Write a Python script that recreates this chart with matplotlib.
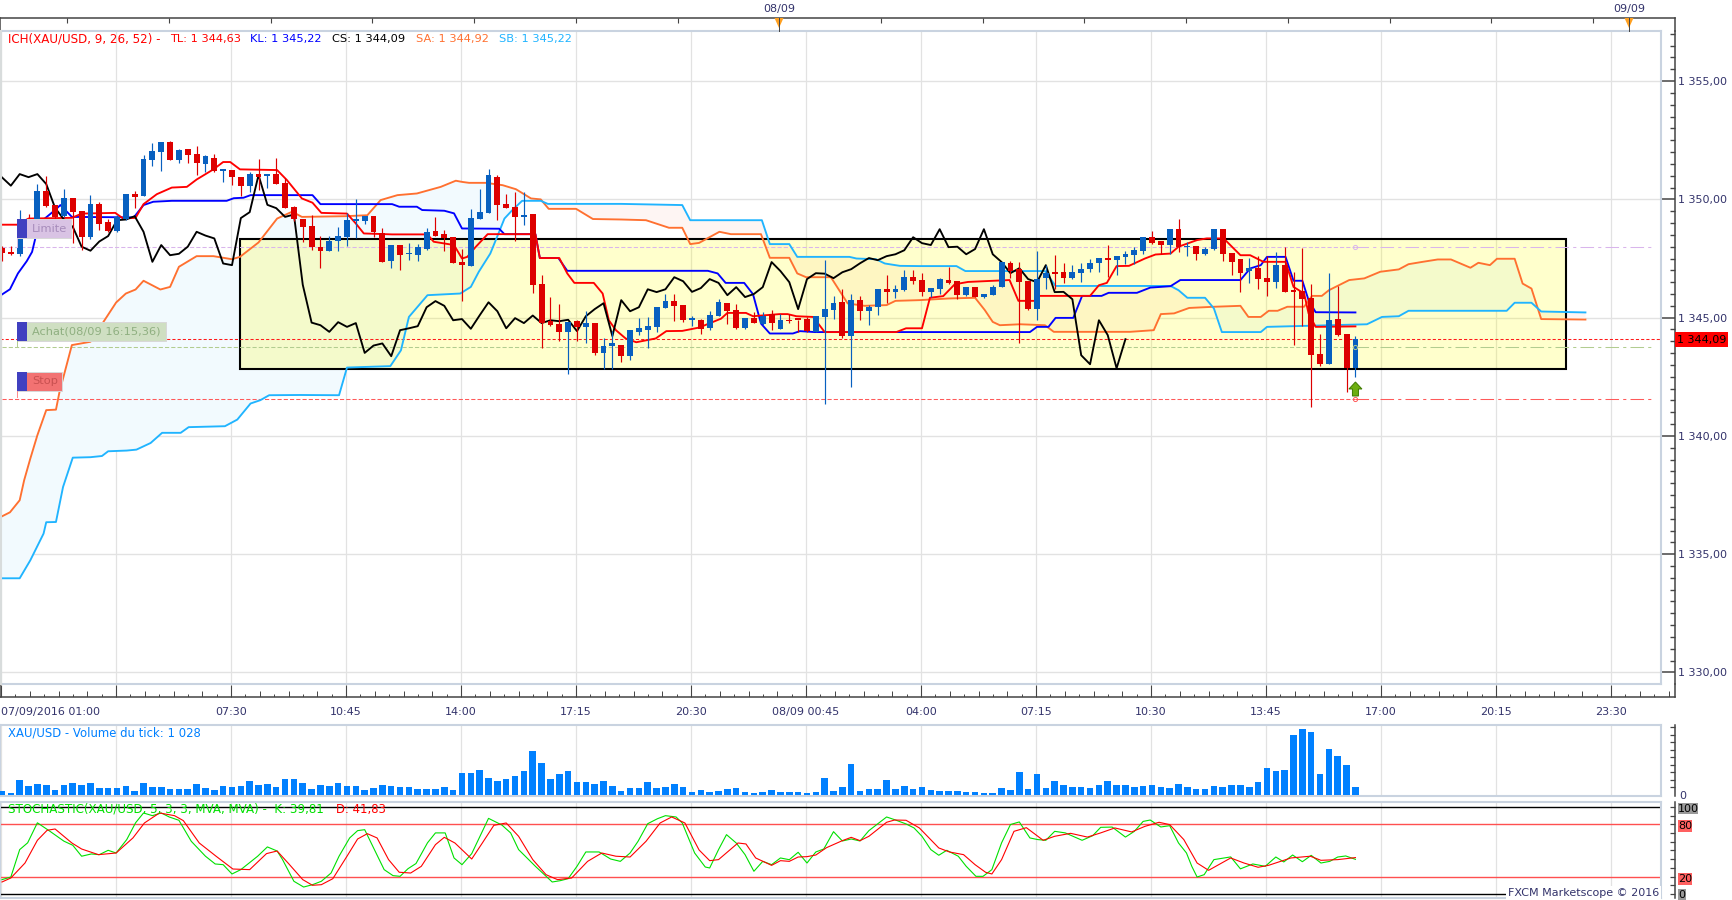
import numpy as np
import matplotlib
matplotlib.use('Agg')
import matplotlib.pyplot as plt
from matplotlib.patches import Rectangle, Polygon
from matplotlib.ticker import MultipleLocator, FuncFormatter, NullFormatter

# --- 15 min candles, 07/09 01:00 -> 08/09 16:15 ---
opens = [1347.94, 1347.77, 1347.68, 1349.19, 1349.12, 1350.35, 1349.76, 1349.29, 1350.08, 1349.49, 1348.42, 1349.80, 1349.04, 1348.67, 1349.18, 1350.22, 1350.15, 1351.66, 1352.01, 1352.42, 1351.66, 1352.13, 1351.91, 1351.51, 1351.77, 1351.21,
         1351.24, 1350.93, 1350.58, 1351.07, 1350.97, 1351.07, 1350.70, 1349.66, 1349.17, 1348.87, 1348.00, 1347.83, 1348.25, 1348.42, 1349.10, 1349.10, 1349.29, 1348.59, 1347.40, 1348.07, 1347.68, 1347.64, 1347.91, 1348.66, 1348.53, 1348.39,
         1347.36, 1347.19, 1349.17, 1349.43, 1350.94, 1349.80, 1349.66, 1349.26, 1349.38, 1346.41, 1344.86, 1344.72, 1344.40, 1344.85, 1344.61, 1344.77, 1343.51, 1343.79, 1343.86, 1343.37, 1344.39, 1344.47, 1344.60, 1345.40, 1345.70, 1345.53,
         1344.92, 1344.92, 1344.55, 1345.06, 1345.61, 1345.32, 1344.55, 1344.98, 1344.72, 1345.15, 1344.51, 1344.92, 1344.92, 1344.94, 1344.40, 1345.02, 1345.32, 1345.65, 1344.22, 1345.74, 1345.27, 1345.44, 1346.20, 1346.08, 1346.16, 1346.71,
         1346.59, 1346.08, 1346.20, 1346.59, 1346.54, 1345.95, 1346.29, 1345.87, 1345.95, 1346.29, 1347.30, 1347.05, 1346.54, 1345.36, 1346.67, 1346.88, 1346.92, 1346.67, 1346.88, 1347.05, 1347.30, 1347.52, 1347.43, 1347.55, 1347.64, 1347.81,
         1348.40, 1348.23, 1348.07, 1348.74, 1347.98, 1348.01, 1347.68, 1347.90, 1348.74, 1347.73, 1347.47, 1346.97, 1347.09, 1346.67, 1346.50, 1347.22, 1346.13, 1346.11, 1345.82, 1343.45, 1343.03, 1344.94, 1344.30, 1342.86]
highs = [1348.02, 1348.05, 1349.55, 1349.38, 1350.67, 1350.98, 1349.76, 1350.46, 1350.08, 1349.49, 1350.18, 1349.88, 1349.15, 1349.33, 1350.22, 1350.35, 1351.87, 1352.37, 1352.42, 1352.45, 1352.15, 1352.13, 1352.25, 1351.89, 1351.91, 1351.24,
         1351.24, 1350.93, 1351.14, 1351.69, 1351.07, 1351.75, 1350.91, 1349.71, 1349.17, 1349.33, 1348.47, 1348.45, 1348.83, 1349.43, 1350.01, 1349.29, 1349.29, 1348.81, 1348.07, 1348.07, 1348.14, 1348.11, 1348.77, 1349.24, 1348.70, 1348.39,
         1347.92, 1349.59, 1350.46, 1351.28, 1351.03, 1350.22, 1350.31, 1350.31, 1349.38, 1346.80, 1345.88, 1345.57, 1344.81, 1344.92, 1345.27, 1344.77, 1344.12, 1344.44, 1343.86, 1344.47, 1344.98, 1345.03, 1345.44, 1346.00, 1346.00, 1345.53,
         1345.06, 1344.96, 1345.29, 1345.80, 1345.61, 1345.57, 1344.98, 1345.23, 1345.23, 1345.32, 1345.15, 1345.15, 1344.92, 1345.03, 1345.06, 1347.43, 1345.91, 1346.20, 1346.00, 1345.91, 1345.53, 1346.20, 1346.80, 1346.37, 1347.01, 1347.01,
         1346.87, 1346.25, 1346.68, 1347.13, 1346.54, 1346.29, 1346.29, 1346.00, 1346.37, 1347.35, 1347.39, 1347.35, 1346.54, 1347.81, 1347.22, 1347.64, 1347.30, 1347.22, 1347.30, 1347.47, 1347.52, 1348.07, 1347.60, 1347.81, 1347.98, 1348.40,
         1348.66, 1348.23, 1348.74, 1349.17, 1348.19, 1348.01, 1347.98, 1348.74, 1348.74, 1347.73, 1347.47, 1347.52, 1347.60, 1347.60, 1347.77, 1347.98, 1346.92, 1347.94, 1346.41, 1344.30, 1346.88, 1346.33, 1344.30, 1344.22]
lows = [1347.40, 1347.66, 1347.60, 1348.77, 1349.12, 1349.66, 1349.12, 1349.24, 1348.14, 1347.85, 1348.33, 1348.70, 1348.63, 1348.62, 1349.12, 1349.62, 1350.15, 1351.42, 1351.21, 1351.68, 1351.52, 1351.55, 1351.03, 1351.17, 1351.17, 1350.74,
        1350.60, 1350.15, 1350.32, 1350.39, 1350.50, 1350.65, 1349.62, 1349.10, 1348.21, 1347.85, 1347.11, 1347.83, 1347.83, 1348.04, 1348.35, 1348.98, 1348.42, 1347.36, 1347.08, 1347.01, 1347.43, 1347.40, 1347.85, 1348.45, 1347.83, 1347.29,
        1345.71, 1347.19, 1349.17, 1349.43, 1349.12, 1349.62, 1348.25, 1348.91, 1346.05, 1343.70, 1344.65, 1344.02, 1342.61, 1344.02, 1343.93, 1343.41, 1342.83, 1342.83, 1343.12, 1343.20, 1344.26, 1343.71, 1344.41, 1345.40, 1344.86, 1344.81,
        1344.64, 1344.30, 1344.47, 1345.06, 1344.72, 1344.51, 1344.51, 1344.77, 1344.68, 1344.47, 1344.51, 1344.77, 1344.39, 1344.39, 1344.39, 1341.34, 1344.94, 1344.13, 1342.06, 1344.89, 1344.68, 1345.10, 1345.61, 1345.82, 1346.12, 1346.44,
        1345.92, 1345.88, 1346.00, 1346.41, 1345.78, 1345.91, 1345.87, 1345.85, 1345.95, 1346.29, 1346.67, 1343.92, 1345.32, 1344.89, 1346.20, 1346.20, 1346.46, 1346.63, 1346.50, 1346.92, 1346.92, 1346.71, 1346.80, 1347.26, 1347.26, 1347.68,
        1348.11, 1347.68, 1347.68, 1347.77, 1347.60, 1347.43, 1347.64, 1347.85, 1347.39, 1346.80, 1346.08, 1346.46, 1346.20, 1345.91, 1346.25, 1346.08, 1343.84, 1344.64, 1341.21, 1342.95, 1343.03, 1344.22, 1341.85, 1342.48]
closes = [1347.74, 1347.68, 1349.19, 1348.98, 1350.35, 1349.71, 1349.24, 1350.08, 1349.46, 1348.39, 1349.80, 1348.95, 1348.67, 1349.24, 1350.22, 1350.10, 1351.70, 1352.03, 1352.42, 1351.68, 1352.08, 1351.89, 1351.52, 1351.83, 1351.21, 1351.24,
          1350.93, 1350.58, 1351.07, 1350.94, 1351.07, 1350.65, 1349.64, 1349.15, 1348.84, 1348.00, 1347.83, 1348.22, 1348.45, 1349.12, 1349.15, 1349.29, 1348.63, 1347.36, 1348.07, 1347.64, 1347.70, 1348.00, 1348.63, 1348.47, 1348.35, 1347.29,
          1347.22, 1349.21, 1349.46, 1351.03, 1349.77, 1349.63, 1349.26, 1349.36, 1346.39, 1344.79, 1344.68, 1344.40, 1344.81, 1344.61, 1344.77, 1343.51, 1343.82, 1343.91, 1343.37, 1344.47, 1344.55, 1344.64, 1345.44, 1345.70, 1345.50, 1344.89,
          1344.94, 1344.53, 1345.10, 1345.65, 1345.27, 1344.55, 1344.98, 1344.77, 1345.09, 1344.77, 1344.89, 1344.85, 1344.91, 1344.43, 1345.06, 1345.36, 1345.61, 1344.22, 1345.74, 1345.27, 1345.44, 1346.20, 1346.08, 1346.20, 1346.71, 1346.54,
          1346.09, 1346.25, 1346.63, 1346.47, 1345.95, 1346.29, 1345.87, 1346.00, 1346.29, 1347.35, 1346.97, 1346.50, 1345.36, 1346.63, 1346.88, 1346.86, 1346.67, 1346.92, 1347.05, 1347.30, 1347.52, 1347.43, 1347.60, 1347.68, 1347.85, 1348.40,
          1348.15, 1348.07, 1348.74, 1347.98, 1348.00, 1347.68, 1347.90, 1348.74, 1347.68, 1347.35, 1346.88, 1347.09, 1346.63, 1346.50, 1347.22, 1346.08, 1346.09, 1345.78, 1343.41, 1343.03, 1344.89, 1344.26, 1342.86, 1344.09]

# --- Ichimoku lines as (bar, price) break points ---
tenkan_bars = [0, 1.7, 3, 7.9, 9, 12.8, 13.7, 15.1, 16, 17.5, 19.2, 20.9, 22, 23.9, 25, 25.8, 26.9, 31.1, 32.2, 33.9, 35.1, 36.1, 39, 40, 40.9, 44.1, 48.1, 48.8, 51.1, 52, 52.6, 53.5, 54.9, 60.3, 60.8, 63, 63.9, 64.7, 66.9, 67.9, 68.6, 69.4, 70.5, 71.7, 73.9, 75.1, 76.9, 78.8, 81.3, 82, 84.1, 84.9, 87.9, 88.8, 89.8, 91.7, 93, 101.1, 102.2, 104, 104.9, 106.4, 107.7, 109.2, 113.9, 114.9, 116.8, 117.2, 123, 124, 124.9, 126, 127.4, 129.2, 130.4, 132.1, 133, 135.1, 136.2, 138.1, 140, 141.1, 142.6, 145.1, 146, 147.2, 147.7, 148.5, 153]
tenkan_vals = [1348.93, 1348.93, 1349.19, 1349.22, 1349.40, 1349.43, 1349.19, 1349.22, 1349.80, 1350.22, 1350.50, 1350.53, 1350.84, 1351.27, 1351.58, 1351.58, 1351.27, 1351.24, 1350.82, 1350.04, 1349.86, 1349.43, 1349.40, 1348.98, 1348.56, 1348.52, 1348.52, 1348.21, 1348.07, 1347.50, 1347.57, 1347.97, 1348.53, 1348.53, 1347.52, 1347.52, 1346.87, 1346.47, 1346.47, 1346.02, 1344.89, 1344.47, 1344.12, 1343.96, 1344.12, 1344.43, 1344.44, 1344.58, 1344.96, 1345.20, 1345.20, 1345.06, 1345.15, 1345.15, 1345.06, 1345.03, 1344.39, 1344.39, 1344.55, 1344.55, 1345.84, 1345.91, 1346.41, 1346.51, 1346.59, 1345.71, 1345.71, 1345.92, 1345.92, 1346.37, 1346.47, 1347.18, 1347.19, 1347.50, 1347.67, 1347.71, 1348.00, 1348.28, 1348.35, 1348.35, 1347.64, 1347.64, 1347.36, 1347.36, 1346.30, 1346.02, 1345.18, 1344.61, 1344.63]

kijun_bars = [0, 0.9, 1.8, 2.8, 3.4, 3.9, 4.7, 6, 6.6, 7.9, 14.9, 16, 17.1, 19.2, 25.4, 26.2, 27.3, 28.1, 35.1, 36, 44.1, 44.9, 46.9, 47.5, 50, 51.1, 52, 56.2, 56.8, 60.3, 60.8, 62.9, 63.9, 79.8, 80.9, 81.8, 83.9, 84.9, 85.8, 86.8, 89.4, 90.2, 91.9, 116.2, 117, 118.3, 119.1, 121.1, 122.1, 124.3, 125.1, 128.3, 129.8, 132.1, 133.2, 140, 141.1, 142.3, 143, 145.1, 146, 147, 147.7, 148.5, 153]
kijun_vals = [1345.98, 1346.20, 1346.87, 1347.39, 1347.78, 1348.56, 1349.15, 1349.55, 1349.76, 1349.26, 1349.24, 1349.76, 1349.90, 1349.94, 1349.94, 1350.05, 1350.07, 1350.18, 1350.18, 1349.80, 1349.80, 1349.69, 1349.69, 1349.55, 1349.52, 1349.41, 1348.77, 1348.76, 1348.53, 1348.53, 1347.52, 1347.52, 1346.98, 1346.98, 1346.87, 1346.47, 1346.47, 1345.99, 1344.75, 1344.33, 1344.33, 1344.43, 1344.39, 1344.39, 1344.61, 1344.61, 1344.99, 1344.99, 1345.92, 1345.92, 1346.05, 1346.05, 1346.27, 1346.33, 1346.59, 1346.59, 1347.08, 1347.22, 1347.57, 1347.57, 1346.56, 1346.56, 1345.74, 1345.23, 1345.22]

senkou_a_bars = [0, 0.9, 2, 2.5, 3.2, 4, 5, 6.1, 6.5, 7.9, 10, 12.9, 14, 15.1, 16, 17.9, 19, 20, 22, 23.9, 26, 26.9, 29, 31.1, 32.8, 33.9, 38.8, 41.3, 42.8, 44.7, 46.9, 49.6, 51.3, 52, 52.8, 54.7, 56.6, 58.1, 59.8, 60.9, 61.8, 64.9, 66.8, 70, 72.8, 75.4, 76.9, 77.8, 78.8, 81.1, 82.4, 85.8, 86.8, 89, 89.9, 90.9, 93.7, 95.6, 97.5, 100, 101, 103.7, 107, 110, 111.1, 112, 112.8, 115.1, 117.9, 118.9, 127.5, 130.2, 131, 132.5, 134.2, 137, 140, 140.9, 142.3, 143.2, 144.2, 145.3, 147.2, 148.1, 149.2, 150, 152.3, 154, 155.8, 157.9, 159, 160.6, 162.3, 163.8, 166, 166.9, 168.2, 169, 171, 171.9, 172.9, 174, 179]
senkou_a_vals = [1336.60, 1336.77, 1337.28, 1338.12, 1339.04, 1340.03, 1341.09, 1341.11, 1341.86, 1343.84, 1343.98, 1345.64, 1346.02, 1346.19, 1346.56, 1346.19, 1346.30, 1347.15, 1347.60, 1347.60, 1347.47, 1347.57, 1348.18, 1349.19, 1349.48, 1349.26, 1349.29, 1349.33, 1349.97, 1350.18, 1350.25, 1350.53, 1350.79, 1350.74, 1350.70, 1350.70, 1350.60, 1350.43, 1350.04, 1350.00, 1349.60, 1349.60, 1349.17, 1349.15, 1349.12, 1348.80, 1348.80, 1348.11, 1348.16, 1348.63, 1348.53, 1348.53, 1347.53, 1347.53, 1346.87, 1346.71, 1346.71, 1345.60, 1345.50, 1345.53, 1345.71, 1345.74, 1345.81, 1345.84, 1345.32, 1344.82, 1344.68, 1344.72, 1344.68, 1344.40, 1344.40, 1344.47, 1345.15, 1345.18, 1345.41, 1345.46, 1345.50, 1345.03, 1345.03, 1345.29, 1345.29, 1345.46, 1345.46, 1345.92, 1345.92, 1346.16, 1346.59, 1346.66, 1346.94, 1347.04, 1347.26, 1347.36, 1347.46, 1347.46, 1347.11, 1347.32, 1347.22, 1347.49, 1347.49, 1346.44, 1346.23, 1344.94, 1344.92]

senkou_b_bars = [0, 2, 3.2, 4.7, 5, 6.1, 6.9, 8, 10, 11.3, 12, 14.1, 15.2, 16.8, 18.1, 20.2, 21.1, 25.2, 26.6, 28.1, 29.2, 30.2, 33.7, 38.1, 39, 43.9, 45.1, 46, 48.1, 51.8, 53, 53.9, 55.2, 56.2, 56.8, 57.7, 58.8, 60.9, 61.7, 70, 76.9, 77.8, 85.9, 86.8, 89, 89.9, 95.8, 96.6, 98.8, 99.8, 101.5, 103.7, 107.9, 108.9, 117.9, 119.1, 132.1, 133, 134, 136, 137, 137.9, 142.3, 143, 154.3, 156, 157.9, 159, 170.1, 171, 172.9, 174, 179]
senkou_b_vals = [1333.98, 1333.98, 1334.74, 1335.87, 1336.35, 1336.36, 1337.84, 1339.08, 1339.10, 1339.15, 1339.35, 1339.38, 1339.42, 1339.70, 1340.13, 1340.13, 1340.37, 1340.41, 1340.69, 1341.37, 1341.51, 1341.72, 1341.73, 1341.72, 1342.89, 1342.95, 1343.62, 1345.03, 1345.95, 1346.02, 1346.30, 1346.94, 1347.71, 1348.63, 1349.19, 1349.55, 1349.94, 1349.94, 1349.81, 1349.81, 1349.76, 1349.12, 1349.12, 1348.11, 1348.11, 1347.57, 1347.57, 1347.50, 1347.47, 1347.29, 1347.19, 1347.18, 1347.18, 1346.97, 1346.97, 1346.34, 1346.34, 1346.16, 1345.84, 1345.84, 1345.39, 1344.39, 1344.39, 1344.61, 1344.72, 1345.03, 1345.06, 1345.29, 1345.29, 1345.63, 1345.63, 1345.26, 1345.22]

# chikou is the close drawn 26 bars back
CHIKOU_SHIFT = 26

volumes = [530, 270, 1990, 1190, 1410, 1330, 660, 1330, 1590, 1330, 1590, 930, 930, 930, 1190, 530, 1590, 1060, 1060, 800, 800, 800, 1460, 930, 660, 1190, 1060, 1190, 1860, 1330, 1460, 1060, 2120, 2120, 1590, 800, 1330, 1190, 1590, 1190, 1190, 660, 930, 1330, 1190, 1060, 1060, 800, 800, 800, 1060, 660,
           2920, 2920, 3320, 2250, 1860, 2120, 2520, 3180, 5830, 4240, 2120, 2780, 3180, 1720, 1720, 1460, 1860, 1190, 530, 930, 930, 1720, 930, 1060, 1460, 1060, 400, 660, 400, 530, 800, 930, 400, 270, 400, 660, 400, 400, 400, 270, 400, 2250, 530, 1060, 4110, 530, 800, 800, 1990, 800, 1190, 800,
           1060, 660, 530, 530, 530, 400, 400, 270, 270, 930, 660, 3050, 800, 2780, 930, 1860, 1330, 1060, 1060, 930, 1330, 1860, 1330, 1330, 1060, 1190, 1330, 1060, 930, 1460, 1060, 800, 800, 1190, 1060, 1330, 1330, 1060, 1720, 3580, 3180, 3320, 7960, 8710, 8350, 2780, 6100, 5170, 3980, 1028]

# --- Stochastic as (bar, value) break points ---
k_bars = [0, 1, 2, 2.9, 4, 5.4, 7, 8, 9, 10.1, 11, 12, 12.9, 14.1, 15.1, 16, 17, 18, 18.9, 20, 21.4, 23, 24.1, 25, 26, 27, 28.9, 30, 31.1, 31.7, 33, 34.1, 35.1, 36.1, 37.2, 38.1, 39.3, 40.2, 41, 42.1, 43.2, 44.2, 45, 45.9, 46.8, 48.1, 49, 50.1, 51.1, 52, 53.1, 55, 56.5, 57.5, 58.4, 60.3, 62.2, 63.1, 64, 65, 66, 67.5, 68.8, 69.9, 71, 71.9, 73, 74.1, 75, 76.2, 76.9, 78.3, 79.5, 80, 81, 81.9, 83, 84, 85, 86, 87, 88, 89, 90, 91, 92, 92.9, 94, 95, 96, 97, 98,
          100, 100.9, 102.2, 103.1, 104, 105, 105.9, 106.8, 108.1, 109, 110.1, 110.9, 111.9, 113, 114, 115, 116.2, 117.1, 118, 119, 120.2, 122.1, 123.3, 124.2, 125.5, 127, 128, 129, 129.8, 131, 132, 133, 133.9, 134.5, 135.1, 135.9, 137, 138.9, 140, 141.4, 142.8, 144, 144.9, 145.9, 147, 148, 149.1, 150.1, 151, 151.9, 153]
k_vals = [16.5, 19.5, 51, 58.8, 81.8, 72.2, 60.7, 56, 43.4, 46, 45.2, 50.2, 47.1, 62.5, 81.8, 93.1, 90, 93.1, 88.5, 84.7, 60.5, 43.4, 34.5, 33.7, 23, 28, 43.4, 54.1, 49.4, 39.8, 14.6, 8, 10.7, 14.6, 24.1, 43.4, 64.4, 72.8, 73.9, 51, 28, 21.1, 20.3, 29.1, 35, 58.8, 70.2, 70.2, 41.4, 33.7, 46.4, 86.9, 79.3, 70.2, 51, 31.8, 13.8, 15.3, 17.6, 31.8, 48.3, 48.3, 40.2, 37.5, 47.1, 60.5, 80.8, 86.5, 90, 88.5, 81.6, 47.1, 31, 29.9, 51, 68.2, 58.6, 45.2, 26.1, 37.5, 33.7, 41.4, 39.4, 47.9, 35.6, 48.3, 51.7, 71.6, 60.9, 63.2, 60.9, 72.8,
          88.5, 85.4, 80.5, 75.9, 66.3, 51, 44.5, 50.2, 43.4, 31.8, 20.3, 20.3, 28, 58.8, 79.8, 82.8, 64.4, 62.5, 61.7, 72, 70.2, 61.7, 67, 76.6, 76.9, 65.4, 71.9, 83.4, 85, 77, 78.5, 58.6, 47.1, 31.8, 19.5, 22.2, 39.5, 42.6, 28.9, 34.5, 31.8, 42.5, 36.8, 44.8, 37.1, 44.4, 35.6, 37.5, 42.5, 43.7, 39.81]

d_bars = [0, 1, 2.6, 4, 5.1, 6, 7.9, 9, 10.9, 12.9, 14.8, 16.1, 17.8, 19.5, 20.5, 22.3, 24.2, 26.1, 28, 29.9, 31.1, 32.4, 34, 35.1, 36.1, 37.4, 39, 40.2, 41.3, 42.4, 43.7, 44.9, 46.2, 47.4, 49, 50, 51.2, 53.1, 54.3, 55.6, 57, 58.4, 60, 61.5, 62.8, 64.4, 66.2, 67.8, 69.4, 71, 72.8, 74.4, 75.7, 77.2, 78.8, 80, 81, 83.2, 84.1, 85.2, 87, 88, 89, 90, 91, 92, 93.2, 95, 96, 97, 98,
          100, 100.9, 102.2, 103.7, 105.9, 107.1, 108.7, 110, 111.2, 111.9, 113, 114.4, 115.8, 117.7, 119, 120.8, 122.7, 124.2, 125.8, 127.7, 129.2, 130.8, 132, 133.6, 135.1, 136.4, 138.9, 140.4, 142, 143.2, 145.7, 147.9, 149.1, 151, 153]
d_vals = [13.8, 18.4, 35.6, 61.7, 73.2, 74.7, 58.6, 51.7, 45.2, 47.1, 64.4, 81.6, 93.1, 90, 84.3, 58.6, 43.4, 28.7, 28, 46.4, 49.4, 34.9, 16.5, 10, 10.7, 17.6, 43.4, 63.2, 69.3, 64.4, 39.5, 25, 24.1, 31.8, 56.7, 65.1, 58.6, 40.2, 58.6, 78.9, 81.6, 66.3, 39.5, 22.2, 16.5, 18.4, 37.5, 47.1, 43.4, 42.5, 60.5, 81.6, 88.5, 81.6, 50.6, 38.3, 39.5, 58.6, 57.5, 41.4, 32.9, 38.3, 37.5, 42.5, 42.9, 44.8, 53.2, 61.3, 65.1, 61.3, 66.3,
          82.4, 85, 84.7, 75.9, 52.9, 48.3, 45.2, 33.7, 24.9, 23, 39.5, 72, 76.2, 61.7, 66.3, 69.7, 65.4, 70.2, 75.9, 71.3, 77.7, 82.4, 79.7, 62.5, 35.6, 27.2, 41.4, 35.6, 30.7, 33, 41.4, 43.4, 38.7, 39.5, 41.83]

# --- Orders and box ---
limit_price = 1348.00
entry_price = 1343.74
stop_price = 1341.58
last_price = 1344.09
box_bars = (26.9, 176.8)
box_prices = (1342.83, 1348.32)

time_labels = ['07/09/2016 01:00', '', '07:30', '10:45', '14:00', '17:15', '20:30', '08/09 00:45',
               '04:00', '07:15', '10:30', '13:45', '17:00', '20:15', '23:30']

# --- Layout (pixels) ---
W, H = 1733, 900
PLOT_RIGHT = 1661
AXIS_X = 1675
BAR_PX = 8.846
BAR0_PX = 2.0
BLUE = '#0860C0'
RED = '#DD0000'
NAVY = '#33336B'
GRID = '#E2E2E2'
BORDER = '#C9D3E0'
AXIS = '#444444'
FS = 8

plt.rcParams['font.family'] = ['DejaVu Sans']


def px_axes(left, top, right, bottom):
    return fig.add_axes([left / W, 1 - bottom / H, (right - left) / W, (bottom - top) / H])


def price_fmt(v, pos=None):
    s = f'{v:.2f}'.replace('.', ',')
    return f'{s[0]} {s[1:]}'


def bar_xlim(right_px):
    return (0 - BAR0_PX) / BAR_PX, (right_px - BAR0_PX) / BAR_PX


def panel(ax):
    ax.set_xlim(*bar_xlim(PLOT_RIGHT))
    ax.set_xticks([])
    for x in range(0, 188, 13):
        ax.axvline(x - 0.1, color=GRID, lw=0.9, zorder=0)
    for side in ['top', 'left', 'bottom']:
        ax.spines[side].set_color(BORDER)
        ax.spines[side].set_linewidth(1.5)
    ax.spines['right'].set_position(('outward', (AXIS_X - PLOT_RIGHT) * 0.72))
    ax.spines['right'].set_color(AXIS)
    ax.spines['right'].set_linewidth(1.1)
    ax.yaxis.tick_right()


fig = plt.figure(figsize=(W / 100, H / 100), dpi=100, facecolor='white')

# --- Main price panel ---
ax = px_axes(0, 31, PLOT_RIGHT, 684)
panel(ax)
ax.set_ylim(1329.51, 1357.12)
ax.yaxis.set_major_locator(MultipleLocator(5))
ax.yaxis.set_minor_locator(MultipleLocator(0.5))
ax.yaxis.set_major_formatter(FuncFormatter(price_fmt))
ax.yaxis.set_minor_formatter(NullFormatter())
ax.tick_params(axis='y', which='major', direction='in', length=10, width=1.1, color=AXIS,
               labelsize=FS, labelcolor=NAVY, pad=2)
ax.tick_params(axis='y', which='minor', direction='in', length=3.6, width=1, color=AXIS)
for t in ax.yaxis.get_minor_ticks():
    if abs(t.get_loc() % 5 - 2.5) < 0.01:
        t.tick2line.set_markersize(5)
for p in range(1330, 1360, 5):
    ax.axhline(p, color=GRID, lw=1.0, zorder=0)

# cloud (only the fill needs a common grid)
cloud_x = np.linspace(0, 179, 1433)
cloud_a = np.interp(cloud_x, senkou_a_bars, senkou_a_vals)
cloud_b = np.interp(cloud_x, senkou_b_bars, senkou_b_vals)
ax.fill_between(cloud_x, cloud_a, cloud_b, where=cloud_a >= cloud_b, color='#F2FAFE', lw=0, zorder=1)
ax.fill_between(cloud_x, cloud_a, cloud_b, where=cloud_a < cloud_b, color='#FEF5F3', lw=0, zorder=1)

# box
ax.add_patch(Rectangle((box_bars[0], box_prices[0]), box_bars[1] - box_bars[0], box_prices[1] - box_prices[0],
                       facecolor=(1, 1, 0, 0.2), edgecolor='black', lw=1.5, zorder=2))

# order lines: short dash up to the last bar, long dash-dot after
last_bar = len(closes) - 1
for price, col in [(limit_price, '#D9B5EC'), (entry_price, '#B2CC90'), (stop_price, '#FF5A5A')]:
    ax.plot([0, last_bar], [price, price], color=col, lw=0.75, ls=(0, (4, 2)), zorder=2.4)
    ax.plot([last_bar, 186.8], [price, price], color=col, lw=0.75, ls=(0, (13, 4, 3, 4)), zorder=2.4)
    ax.plot([last_bar], [price], 'o', ms=3, mfc='none', mec=col, mew=0.7, zorder=6)
ax.axhline(last_price, color='#FF1A1A', lw=0.75, ls=(0, (3, 2)), zorder=2.4)

# ichimoku
ax.plot(senkou_a_bars, senkou_a_vals, color='#FF7030', lw=1.35, zorder=3)
ax.plot(senkou_b_bars, senkou_b_vals, color='#20B4FF', lw=1.35, zorder=3)
ax.plot(kijun_bars, kijun_vals, color='#0000FF', lw=1.35, zorder=3.1)
ax.plot(tenkan_bars, tenkan_vals, color='#FF0000', lw=1.35, zorder=3.2)
ax.plot(np.arange(len(closes) - CHIKOU_SHIFT), closes[CHIKOU_SHIFT:], color='black', lw=1.35, zorder=3.3)

# candles
bars = np.arange(len(closes))
o = np.array(opens)
c = np.array(closes)
colors = [BLUE if cv >= ov else RED for ov, cv in zip(o, c)]
ax.vlines(bars, lows, highs, colors=colors, lw=0.85, zorder=4)
body = np.maximum(np.abs(c - o), 0.06)
ax.bar(bars, body, bottom=np.minimum(o, c), width=0.66, color=colors, lw=0, zorder=4.1)

# --- Time strips ---
ax_top = px_axes(0, 18, AXIS_X, 31)
ax_top.set_xlim(0, AXIS_X)
ax_top.set_ylim(0, 13)
ax_top.set_yticks([])
ax_top.set_xticks(np.arange(67.4, 1660, 101.7))
ax_top.tick_params(axis='x', direction='in', top=True, bottom=False, labeltop=False, labelbottom=False,
                   length=3.5, width=0.8, color=AXIS)
ax_top.patch.set_alpha(0)
ax_top.spines['bottom'].set_visible(False)
for side in ['top', 'left', 'right']:
    ax_top.spines[side].set_color(AXIS)
    ax_top.spines[side].set_linewidth(1.1)

ax_time = px_axes(0, 684, AXIS_X, 697)
ax_time.set_xlim(*bar_xlim(AXIS_X))
ax_time.set_ylim(0, 13)
ax_time.set_yticks([])
ax_time.patch.set_alpha(0)
ax_time.spines['top'].set_visible(False)
for side in ['bottom', 'left', 'right']:
    ax_time.spines[side].set_color(AXIS)
    ax_time.spines[side].set_linewidth(1.1)
tick_pos = np.arange(len(time_labels)) * 13 - 0.1
ax_time.set_xticks(tick_pos)
ax_time.set_xticklabels(time_labels, fontsize=FS, color=NAVY)
ax_time.tick_params(axis='x', which='major', direction='in', length=8.5, width=0.8, color=AXIS, pad=7)
ax_time.get_xticklabels()[0].set_ha('left')
ax_time.get_xticklabels()[0].set_x(0)
minor_short = [x for k in range(0, 15) for x in (tick_pos[0] + 13 * k + 13 / 8 * j for j in (1, 3, 5, 7))]
minor_long = [x for k in range(0, 15) for x in (tick_pos[0] + 13 * k + 13 / 8 * j for j in (2, 4, 6))]
ax_time.vlines(minor_short, 0, 3, color=AXIS, lw=0.7)
ax_time.vlines(minor_long, 0, 6, color=AXIS, lw=0.7)

# --- Volume panel ---
ax_vol = px_axes(0, 725, PLOT_RIGHT, 796)
panel(ax_vol)
ax_vol.set_ylim(-133, 9282)
ax_vol.bar(bars, volumes, width=0.74, color='#0080FF', lw=0, zorder=3)
ax_vol.yaxis.set_major_locator(MultipleLocator(5000))
ax_vol.yaxis.set_minor_locator(MultipleLocator(1000))
ax_vol.set_yticks([0])
ax_vol.set_yticklabels(['0'], fontsize=FS, color=NAVY)
ax_vol.yaxis.set_minor_locator(MultipleLocator(1000))
ax_vol.tick_params(axis='y', which='major', direction='in', length=0, pad=3)
ax_vol.tick_params(axis='y', which='minor', direction='in', length=3.6, width=0.9, color=AXIS)

# --- Stochastic panel ---
ax_st = px_axes(0, 802, PLOT_RIGHT, 898)
panel(ax_st)
ax_st.set_ylim(-4.6, 105.7)
ax_st.set_yticks(np.arange(0, 101, 10))
ax_st.set_yticklabels([])
ax_st.tick_params(axis='y', direction='in', length=3.6, width=0.9, color=AXIS)
for level in [0, 100]:
    ax_st.axhline(level, color='black', lw=1.0, zorder=2)
for level in [20, 80]:
    ax_st.axhline(level, color='#FF5050', lw=1.0, zorder=2)
ax_st.plot(k_bars, k_vals, color='#00E000', lw=0.8, zorder=3)
ax_st.plot(d_bars, d_vals, color='#FF0000', lw=0.8, zorder=3.1)

# --- Overlay in pixel coordinates: labels, tags, markers ---
ov = fig.add_axes([0, 0, 1, 1], zorder=10)
ov.set_xlim(0, W)
ov.set_ylim(H, 0)
ov.axis('off')


def tx(x, y, s, col, **kw):
    ov.text(x, y, s, color=col, fontsize=kw.pop('fs', FS), va='center', ha=kw.pop('ha', 'left'), **kw)


# plot right borders
for t_, b_ in [(31, 684), (725, 796), (802, 898)]:
    ov.plot([PLOT_RIGHT, PLOT_RIGHT], [t_, b_], color=BORDER, lw=1.5)
ov.plot([0.8, 0.8], [31, 684], color='#D8DCDC', lw=1.5)

# indicator headers
tx(8, 39, 'ICH(XAU/USD, 9, 26, 52) -', '#FF0000', fs=8.55)
tx(170, 39, 'TL: 1 344,63', '#FF0000', fs=8.2)
tx(250, 39, 'KL: 1 345,22', '#0000FF', fs=8.2)
tx(332, 39, 'CS: 1 344,09', '#000000', fs=8.2)
tx(416, 39, 'SA: 1 344,92', '#FF7030', fs=8.2)
tx(499, 39, 'SB: 1 345,22', '#20B4FF', fs=8.2)
tx(8, 733, 'XAU/USD - Volume du tick: 1 028', '#0080FF', fs=8.4)
tx(8, 809, 'STOCHASTIC(XAU/USD, 5, 3, 3, MVA, MVA) -  K: 39,81', '#00E000', fs=8.55)
tx(336, 809, 'D: 41,83', '#FF0000', fs=8.4)
ov.text(1659, 893, 'FXCM Marketscope © 2016', color=NAVY, fontsize=FS, ha='right', va='center',
        bbox=dict(facecolor='white', edgecolor='none', pad=1.2))

# order labels
for left, top, right, bottom, fill, txt_col, label in [
        (17, 219, 71, 238, '#D9C3E4', '#A78CBB', 'Limite'),
        (17, 322, 166, 341, '#CFDFC2', '#8FAF80', 'Achat(08/09 16:15,36)'),
        (17, 372, 62, 391, '#F27272', '#C85050', 'Stop')]:
    ov.add_patch(Rectangle((left, top), right - left, bottom - top, facecolor=fill, edgecolor='#D8D8D8', lw=0.7))
    ov.add_patch(Rectangle((left, top), 10, bottom - top, facecolor='#4040C0', edgecolor='none'))
    tx(left + 15, (top + bottom) / 2, label, txt_col, fs=8.2)
ov.plot([17, 17], [238, 247], color='#D9C3E4', lw=0.7)
ov.plot([17, 17], [341, 347], color='#B2CC90', lw=0.7)
ov.plot([17, 17], [391, 397], color='#FF8A8A', lw=0.7)

# entry arrow
ax_px = BAR0_PX + BAR_PX * last_bar
ov.add_patch(Polygon([(ax_px, 382), (ax_px + 6.5, 389), (ax_px + 3, 389), (ax_px + 3, 396),
                      (ax_px - 3, 396), (ax_px - 3, 389), (ax_px - 6.5, 389)],
                     closed=True, facecolor='#6DAE10', edgecolor='#3E7A00', lw=0.7))

# last price tag
ov.add_patch(Rectangle((AXIS_X, 332), 53.5, 15, facecolor='#FF0000', edgecolor='none'))
tx(AXIS_X + 2, 339.5, price_fmt(last_price), 'black')

# stochastic level tags
for left, top, right, bottom, fill, label in [(1678, 803, 1698, 814, '#999999', '100'),
                                              (1678, 820, 1692, 832, '#FF6060', '80'),
                                              (1678, 873, 1692, 885, '#FF6060', '20'),
                                              (1678, 889, 1686, 900, '#999999', '0')]:
    ov.add_patch(Rectangle((left, top), right - left, bottom - top, facecolor=fill, edgecolor='none'))
    tx((left + right) / 2, (top + bottom) / 2, label, 'black', ha='center')

# day markers on top strip
for x, label in [(779, '08/09'), (1629, '09/09')]:
    ov.add_patch(Polygon([(x - 4.5, 18), (x + 4.5, 18), (x, 28)], closed=True, facecolor='#FFA020', edgecolor='none'))
    ov.plot([x, x], [18, 31], color=AXIS, lw=0.7)
    tx(x, 9, label, NAVY, ha='center')

fig.savefig('out.png', dpi=100, facecolor='white')
